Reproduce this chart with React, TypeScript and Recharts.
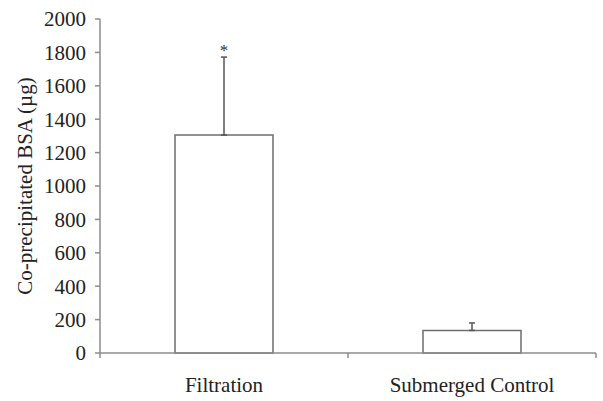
import React from 'react';
import { BarChart, Bar, XAxis, YAxis, ErrorBar, ReferenceDot } from 'recharts';

const categories = ['Filtration', 'Submerged Control'];
const means = [1305, 135];
const sdUpper = [467, 45];
const significance = ['*', ''];
const yTicks = [0, 200, 400, 600, 800, 1000, 1200, 1400, 1600, 1800, 2000];

const data = categories.map((c, i) => ({
  name: c,
  value: means[i],
  err: [0, sdUpper[i]],
}));

const FONT = 'Liberation Serif, Tinos, Times New Roman, Times, serif';
const AXIS = '#8c8c8c';

const XTick = (props: any) => {
  const { x, y, payload, index } = props;
  const off = payload && payload.offset != null ? payload.offset : 124;
  return (
    <g>
      {index === 0 && <line x1={x - off} y1={y} x2={x - off} y2={y + 5} stroke={AXIS} strokeWidth={1.5} />}
      <line x1={x + off} y1={y} x2={x + off} y2={y + 5} stroke={AXIS} strokeWidth={1.5} />
      <text x={x} y={y + 39} textAnchor="middle" style={{ fontFamily: FONT, fontSize: 21 }} fill="#222">
        {payload.value}
      </text>
    </g>
  );
};

export default function App() {
  return (
    <div style={{ position: 'absolute', left: 0, top: 0, background: '#fff', fontFamily: FONT }}>
      <BarChart
        width={603}
        height={401}
        data={data}
        margin={{ top: 19, right: 7, bottom: 0, left: 0 }}
        barCategoryGap={0}
        style={{ fontFamily: FONT }}
      >
        <XAxis
          dataKey="name"
          tickLine={false}
          tickSize={0}
          tickMargin={0}
          axisLine={{ stroke: AXIS, strokeWidth: 1.5 }}
          tick={<XTick />}
          interval={0}
          height={48}
        />
        <YAxis
          width={100}
          domain={[0, 2000]}
          ticks={yTicks}
          interval={0}
          tickSize={5}
          tickMargin={9}
          axisLine={{ stroke: AXIS, strokeWidth: 1.5 }}
          tickLine={{ stroke: AXIS, strokeWidth: 1.5 }}
          tick={{ style: { fontFamily: FONT }, fontSize: 21, fill: '#222' }}
          label={{
            value: 'Co-precipitated BSA (µg)',
            angle: -90,
            position: 'insideLeft',
            offset: 0,
            dx: 25,
            style: { textAnchor: 'middle', fontFamily: FONT, fontSize: 21, fill: '#222' },
          }}
        />
        <Bar
          dataKey="value"
          fill="#ffffff"
          stroke="#6e6e6e"
          strokeWidth={1.5}
          barSize={98}
          isAnimationActive={false}
        >
          <ErrorBar dataKey="err" direction="y" width={3} stroke="#555" strokeWidth={1.5} />
        </Bar>
        {categories.map((c, i) =>
          significance[i] ? (
            <ReferenceDot
              key={c}
              x={c}
              y={means[i] + sdUpper[i]}
              r={0}
              fill="none"
              stroke="none"
              label={{ value: significance[i], position: 'top', offset: 1, fontSize: 17, fill: '#333', style: { fontFamily: FONT } }}
            />
          ) : null
        )}
      </BarChart>
    </div>
  );
}
